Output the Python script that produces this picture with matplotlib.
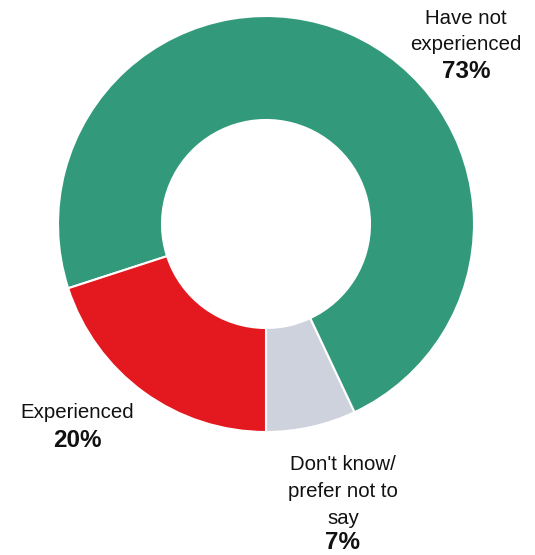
import matplotlib
matplotlib.use("Agg")
import matplotlib.pyplot as plt

labels = ["Don't know/\nprefer not to\nsay", "Have not\nexperienced", "Experienced"]
values = [7, 73, 20]
colors = ["#CED2DC", "#329A7A", "#E3191F"]

W, H = 535, 555
fig = plt.figure(figsize=(W / 100, H / 100), dpi=100)
ax = fig.add_axes([0, 0, 1, 1])

cx, cy, r = 266, H - 224, 208
ax.pie(values, colors=colors, startangle=-90, counterclock=True,
       center=(cx, cy), radius=r,
       wedgeprops=dict(width=r * 0.5, edgecolor="white", linewidth=1.5))
ax.set_xlim(0, W)
ax.set_ylim(0, H)
ax.set_aspect("equal")
ax.axis("off")

font = "Liberation Sans"
fs = 14.7
fs_pct = 17.5
# label anchors: (x, y of first line in px from top, gap before percentage)
anchors = [(343, 465, 24.5), (466, 18, 27), (77, 412, 28.5)]
lh = 26.5
for lab, val, (x, y, gap) in zip(labels, values, anchors):
    lines = lab.split("\n")
    for i, line in enumerate(lines):
        ax.text(x, H - (y + i * lh), line, ha="center", va="center",
                fontsize=fs, family=font, color="#111111")
    ax.text(x, H - (y + (len(lines) - 1) * lh + gap), f"{val}%",
            ha="center", va="center",
            fontsize=fs_pct, family=font, fontweight="bold", color="#111111")

fig.savefig("out.png", dpi=100)
